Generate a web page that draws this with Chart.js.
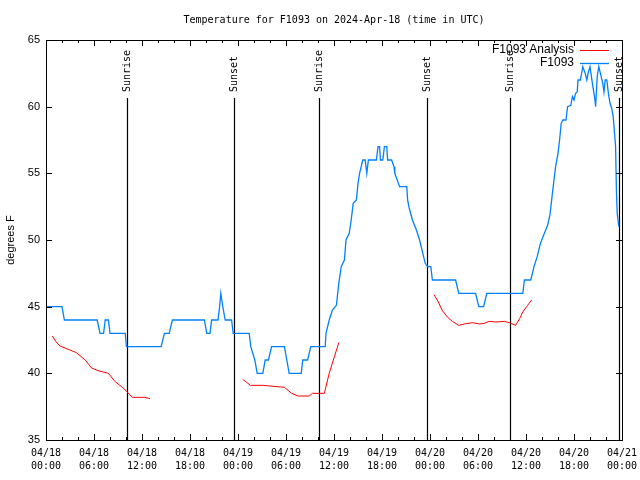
<!DOCTYPE html>
<html>
<head>
<meta charset="utf-8">
<script src="https://cdn.jsdelivr.net/npm/chart.js@4.4.1/dist/chart.umd.min.js"></script>
<style>
  html, body { margin: 0; padding: 0; background: #fff; }
</style>
</head>
<body>
<canvas id="grafico" width="640" height="480"></canvas>
<script>
// horas desde 04/18 00:00 UTC
const horasObs = [0, 2.0, 2.3, 6.4, 6.75, 7.2, 7.4, 7.8, 8.0, 9.9, 10.05, 14.4, 14.8, 15.4, 15.8, 19.8, 20.1, 20.5, 20.7, 21.5,
  21.7, 21.85, 22.1, 22.4, 23.2, 23.4, 25.4, 25.6, 26.1, 26.4, 27.1, 27.4, 27.8, 28.2, 29.8, 30.1, 30.4, 31.9, 32.1, 32.7,
  33.1, 34.9, 35.0, 35.4, 35.8, 36.3, 36.6, 36.9, 37.3, 37.5, 37.9, 38.15, 38.4, 38.8, 39.0, 39.2, 39.6, 39.9, 40.1, 40.3,
  41.3, 41.5, 41.7, 41.8, 42.1, 42.3, 42.6, 42.7, 43.2, 43.5, 43.6, 44.2, 45.1, 45.2, 45.4, 45.8, 46.3, 46.7, 47.1, 47.4,
  47.7, 48.1, 48.3, 51.2, 51.6, 53.7, 54.1, 54.7, 55.1, 59.6, 59.8, 60.6, 61.0, 61.4, 61.8, 62.3, 62.7, 63.0, 63.3, 63.5,
  63.7, 64.0, 64.2, 64.4, 64.6, 65.0, 65.2, 65.6, 65.8, 66.0, 66.2, 66.4, 66.5, 66.8, 67.1, 67.4, 67.6, 67.8, 68.0, 68.3,
  68.6, 68.7, 68.9, 69.1, 69.3, 69.6, 69.75, 69.9, 70.1, 70.3, 70.5, 70.7, 70.9, 71.0, 71.2, 71.3, 71.4, 71.6];
const tempObs = [45, 45, 44, 44, 43, 43, 44, 44, 43, 43, 42, 42, 43, 43, 44, 44, 43, 43, 44, 44,
  45, 46, 45, 44, 44, 43, 43, 42, 41, 40, 40, 41, 41, 42, 42, 41, 40, 40, 41, 41,
  42, 42, 43, 44, 44.75, 45.1, 46.75, 48, 48.5, 50, 50.5, 51.5, 52.75, 53, 54.25, 55, 56, 56, 55, 56,
  56, 57, 57, 56, 56, 57, 57, 56, 56, 55.5, 55, 54, 54, 53, 52.4, 51.5, 50.75, 50, 49, 48.25,
  48, 48, 47, 47, 46, 46, 45, 45, 46, 46, 47, 47, 48, 48.75, 49.75, 50.5, 51.1, 51.9, 53.5, 54.5,
  55.5, 56.5, 57.5, 58.75, 59, 59, 60, 60.1, 60.75, 60.5, 61, 61.1, 62, 62, 63, 62.5, 62, 62.6, 63, 61.75,
  60.6, 60, 62.25, 63, 62.5, 61.75, 61.1, 62, 62, 61, 60.25, 59.9, 59.25, 58.5, 57, 53.75, 52, 51];

const horasAnalise = [0.8, 1.2, 1.75, 3.0, 3.8, 4.9, 5.7, 6.5, 7.8, 8.6, 9.65, 10.15, 10.8, 12.35, 13.0,
  18,
  24.6, 25.55, 27.1, 29.8, 30.7, 31.5, 32.9, 33.3, 34.8, 35.4, 36.05, 36.6,
  42,
  48.5, 49.0, 49.5, 50.2, 50.8, 51.6, 52.3, 53.3, 54.2, 54.8, 55.4, 56.2, 57.3, 57.9, 58.7, 59.2, 59.6, 60.2, 60.7];
const tempAnalise = [42.8, 42.4, 42.05, 41.75, 41.55, 41.0, 40.4, 40.2, 40.0, 39.4, 38.9, 38.6, 38.2, 38.2, 38.1,
  null,
  39.55, 39.1, 39.1, 38.95, 38.5, 38.3, 38.3, 38.5, 38.5, 40.0, 41.25, 42.3,
  null,
  45.9, 45.4, 44.75, 44.2, 43.9, 43.6, 43.7, 43.8, 43.7, 43.75, 43.9, 43.85, 43.9, 43.8, 43.6, 44.1, 44.6, 45.1, 45.5];

const nascerSol = [10.125, 34.17, 58.04];
const porSol = [23.5, 47.6, 71.6];

const rotulosX = [['04/18', '00:00'], ['04/18', '06:00'], ['04/18', '12:00'], ['04/18', '18:00'],
  ['04/19', '00:00'], ['04/19', '06:00'], ['04/19', '12:00'], ['04/19', '18:00'],
  ['04/20', '00:00'], ['04/20', '06:00'], ['04/20', '12:00'], ['04/20', '18:00'], ['04/21', '00:00']];

const AZUL = 'rgb(0,128,255)';
const VERMELHO = 'rgb(255,0,0)';
const MONO = '"DejaVu Sans Mono", monospace';
const SANS = '"Liberation Sans", Arial, sans-serif';

// linhas do sol, moldura, marcas para dentro e legenda
const marcas = {
  id: 'marcas',
  beforeDatasetsDraw(chart) {
    const { ctx, chartArea: a, scales: { x } } = chart;
    ctx.save();
    ctx.strokeStyle = '#000';
    ctx.fillStyle = '#000';
    ctx.lineWidth = 1.2;
    ctx.font = '10px ' + MONO;
    const marcar = (horas, texto) => horas.forEach(h => {
      const px = Math.round(x.getPixelForValue(h)) + 0.5;
      ctx.beginPath();
      ctx.moveTo(px, a.top + 58);
      ctx.lineTo(px, a.bottom);
      ctx.stroke();
      ctx.save();
      ctx.translate(px, a.top + 52);
      ctx.rotate(-Math.PI / 2);
      ctx.textAlign = 'left';
      ctx.textBaseline = 'middle';
      ctx.fillText(texto, 0, 0);
      ctx.restore();
    });
    marcar(nascerSol, 'Sunrise');
    marcar(porSol, 'Sunset');
    ctx.restore();
  },
  afterDatasetsDraw(chart) {
    const { ctx, chartArea: a, scales: { x, y } } = chart;
    ctx.save();
    ctx.strokeStyle = '#000';
    ctx.lineWidth = 1;
    ctx.strokeRect(a.left + 0.5, a.top + 0.5, a.right - a.left, a.bottom - a.top);
    ctx.beginPath();
    x.ticks.forEach(t => {
      const px = Math.round(x.getPixelForValue(t.value)) + 0.5;
      const len = t.value % 6 === 0 ? 6 : 3;
      ctx.moveTo(px, a.bottom); ctx.lineTo(px, a.bottom - len);
      ctx.moveTo(px, a.top); ctx.lineTo(px, a.top + len);
    });
    y.ticks.forEach(t => {
      const py = Math.round(y.getPixelForValue(t.value)) + 0.5;
      ctx.moveTo(a.left, py); ctx.lineTo(a.left + 6, py);
      ctx.moveTo(a.right, py); ctx.lineTo(a.right - 6, py);
    });
    ctx.stroke();

    // legenda
    ctx.font = '12px ' + SANS;
    ctx.fillStyle = '#000';
    ctx.textAlign = 'right';
    ctx.textBaseline = 'middle';
    chart.data.datasets.forEach((d, i) => {
      const ly = a.top + 10 + i * 13;
      ctx.fillText(d.label, a.right - 48, ly);
      ctx.strokeStyle = d.borderColor;
      ctx.lineWidth = d.borderWidth;
      ctx.beginPath();
      ctx.moveTo(a.right - 42, ly + 0.5);
      ctx.lineTo(a.right - 13, ly + 0.5);
      ctx.stroke();
    });
    ctx.restore();
  }
};

const ctx = document.getElementById('grafico');

new Chart(ctx, {
  type: 'line',
  data: {
    datasets: [{
      label: 'F1093 Analysis',
      data: horasAnalise.map((h, i) => ({ x: h, y: tempAnalise[i] })),
      borderColor: VERMELHO,
      borderWidth: 1,
      pointRadius: 0,
      spanGaps: false,
      tension: 0
    }, {
      label: 'F1093',
      data: horasObs.map((h, i) => ({ x: h, y: tempObs[i] })),
      borderColor: AZUL,
      borderWidth: 1.3,
      pointRadius: 0,
      tension: 0
    }]
  },
  options: {
    responsive: false,
    animation: false,
    layout: { padding: { right: 18 } },
    plugins: {
      legend: { display: false },
      tooltip: { enabled: false },
      title: {
        display: true,
        fullSize: false,
        text: 'Temperature for F1093 on 2024-Apr-18 (time in UTC)',
        color: '#000',
        font: { family: MONO, size: 10, weight: 'normal', lineHeight: 1.2 },
        padding: { top: 14, bottom: 14 }
      }
    },
    scales: {
      x: {
        type: 'linear',
        min: 0,
        max: 72,
        grid: { display: false, drawTicks: false },
        border: { display: false },
        afterFit: s => { s.height = 40; s.paddingLeft = 0; s.paddingRight = 0; },
        ticks: {
          stepSize: 2,
          autoSkip: false,
          maxRotation: 0,
          padding: 7,
          color: '#000',
          font: { family: MONO, size: 10, lineHeight: 1.3 },
          callback: v => (v % 6 === 0 ? rotulosX[v / 6] : '')
        }
      },
      y: {
        min: 35,
        max: 65,
        grid: { display: false, drawTicks: false },
        border: { display: false },
        afterFit: s => { s.width = 46; },
        title: {
          display: true,
          text: 'degrees F',
          color: '#000',
          font: { family: SANS, size: 11 },
          padding: { top: 4, bottom: 0 }
        },
        ticks: {
          stepSize: 5,
          padding: 6,
          color: '#000',
          font: { family: SANS, size: 11 }
        }
      }
    }
  },
  plugins: [marcas]
});
</script>
</body>
</html>
